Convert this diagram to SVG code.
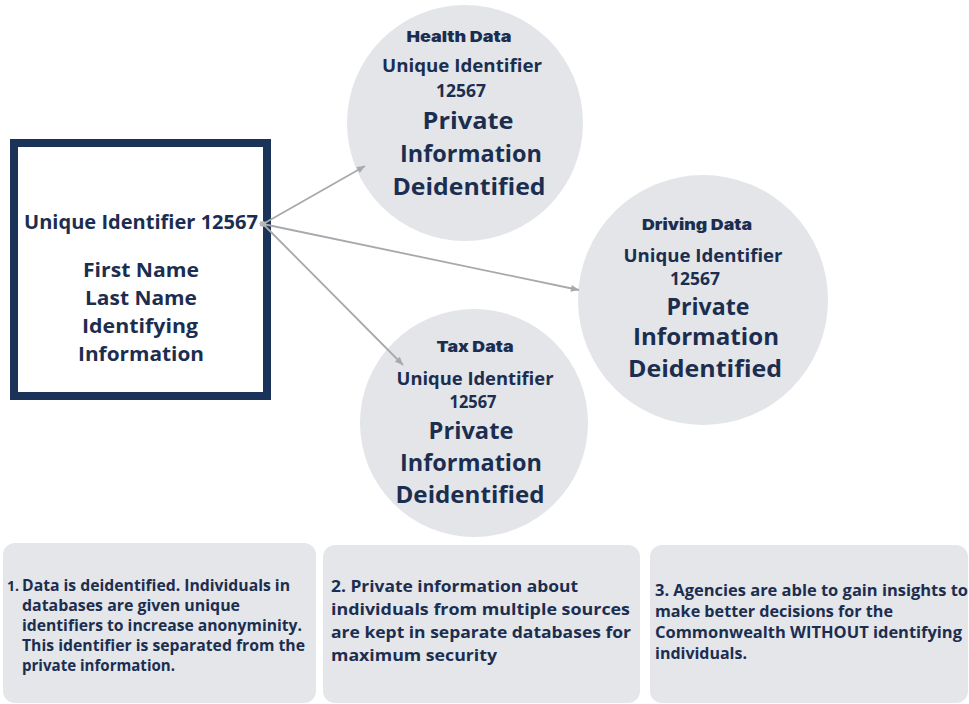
<svg xmlns="http://www.w3.org/2000/svg" width="969" height="704" viewBox="0 0 969 704">
<style>
  .t { fill: #1c2e50; font-family: "Open Sans", "Liberation Sans", sans-serif; font-weight: 700; }
  .c { text-anchor: middle; }
  .ttl { font-family: "Inter", "Lato", "Open Sans", sans-serif; font-weight: 900; font-size: 15px; }
  .uid { font-size: 17px; font-weight: 700; }
  .big { font-size: 23px; font-weight: 700; }
  .bx { font-size: 19px; }
  .note { font-size: 16px; }
  .circ { fill: #e3e5e8; }
  .card { fill: #e4e6e9; }
  .conn { stroke: #a6a9ad; stroke-width: 1.8; fill: none; marker-end: url(#ah); marker-start: url(#dot); }
</style>
<defs>
  <marker id="ah" markerUnits="userSpaceOnUse" markerWidth="10" markerHeight="10" refX="9" refY="5" orient="auto">
    <path d="M1,1.5 L9,5 L1,8.5 Z" fill="#a6a9ad"/>
  </marker>
  <marker id="dot" markerUnits="userSpaceOnUse" markerWidth="8" markerHeight="8" refX="4" refY="4" orient="auto">
    <path d="M0,4 L4,1 L8,4 L4,7 Z" fill="#b5b8bb"/>
  </marker>
</defs>
<rect width="969" height="704" fill="#ffffff"/>

<g id="circle-health">
  <circle class="circ" cx="465" cy="123" r="118"/>
  <text class="t c ttl" x="459" y="42" textLength="105" lengthAdjust="spacingAndGlyphs">Health Data</text>
  <text class="t c uid" x="462" y="72" textLength="160" lengthAdjust="spacingAndGlyphs">Unique Identifier</text>
  <text class="t c uid" x="461" y="97" textLength="50" lengthAdjust="spacingAndGlyphs">12567</text>
  <text class="t c big" x="468" y="129" textLength="91" lengthAdjust="spacingAndGlyphs">Private</text>
  <text class="t c big" x="471" y="162" textLength="142" lengthAdjust="spacingAndGlyphs">Information</text>
  <text class="t c big" x="469" y="195" textLength="153" lengthAdjust="spacingAndGlyphs">Deidentified</text>
</g>

<g id="circle-driving">
  <circle class="circ" cx="703" cy="300" r="125"/>
  <text class="t c ttl" x="697" y="230" textLength="110" lengthAdjust="spacingAndGlyphs">Driving Data</text>
  <text class="t c uid" x="703" y="262" textLength="159" lengthAdjust="spacingAndGlyphs">Unique Identifier</text>
  <text class="t c uid" x="695" y="285" textLength="50" lengthAdjust="spacingAndGlyphs">12567</text>
  <text class="t c big" x="708" y="315" textLength="83" lengthAdjust="spacingAndGlyphs">Private</text>
  <text class="t c big" x="706" y="345" textLength="146" lengthAdjust="spacingAndGlyphs">Information</text>
  <text class="t c big" x="705" y="377" textLength="154" lengthAdjust="spacingAndGlyphs">Deidentified</text>
</g>

<g id="circle-tax">
  <circle class="circ" cx="474" cy="423" r="114"/>
  <text class="t c ttl" x="475" y="352" textLength="77" lengthAdjust="spacingAndGlyphs">Tax Data</text>
  <text class="t c uid" x="475" y="385" textLength="157" lengthAdjust="spacingAndGlyphs">Unique Identifier</text>
  <text class="t c uid" x="473" y="408" textLength="47" lengthAdjust="spacingAndGlyphs">12567</text>
  <text class="t c big" x="471" y="439" textLength="85" lengthAdjust="spacingAndGlyphs">Private</text>
  <text class="t c big" x="471" y="471" textLength="142" lengthAdjust="spacingAndGlyphs">Information</text>
  <text class="t c big" x="470" y="503" textLength="149" lengthAdjust="spacingAndGlyphs">Deidentified</text>
</g>

<g id="person-record">
  <rect x="14" y="143" width="253" height="253" fill="#ffffff" stroke="#1b3358" stroke-width="8"/>
  <text class="t c bx" x="141" y="229" textLength="234" lengthAdjust="spacingAndGlyphs">Unique Identifier 12567</text>
  <text class="t c bx" x="141" y="277" textLength="116" lengthAdjust="spacingAndGlyphs">First Name</text>
  <text class="t c bx" x="141" y="305" textLength="112" lengthAdjust="spacingAndGlyphs">Last Name</text>
  <text class="t c bx" x="140" y="333" textLength="116" lengthAdjust="spacingAndGlyphs">Identifying</text>
  <text class="t c bx" x="141" y="361" textLength="126" lengthAdjust="spacingAndGlyphs">Information</text>
</g>

<g id="connectors">
  <line class="conn" x1="263" y1="224" x2="365" y2="166"/>
  <line class="conn" x1="263" y1="224" x2="579" y2="290"/>
  <line class="conn" x1="263" y1="224" x2="403" y2="365"/>
</g>

<g id="note-1">
  <rect class="card" x="3" y="543" width="313" height="160" rx="12"/>
  <text class="t" x="7" y="591" font-weight="400" font-size="14">1.</text>
  <text class="t note" x="22" y="591" textLength="268" lengthAdjust="spacingAndGlyphs">Data is deidentified. Individuals in</text>
  <text class="t note" x="22" y="611" textLength="218" lengthAdjust="spacingAndGlyphs">databases are given unique</text>
  <text class="t note" x="22" y="631" textLength="280" lengthAdjust="spacingAndGlyphs">identifiers to increase anonyminity.</text>
  <text class="t note" x="22" y="651" textLength="283" lengthAdjust="spacingAndGlyphs">This identifier is separated from the</text>
  <text class="t note" x="22" y="671" textLength="153" lengthAdjust="spacingAndGlyphs">private information.</text>
</g>

<g id="note-2">
  <rect class="card" x="323" y="545" width="317" height="158" rx="12"/>
  <text class="t note" x="331" y="592" textLength="247" lengthAdjust="spacingAndGlyphs">2. Private information about</text>
  <text class="t note" x="331" y="615" textLength="299" lengthAdjust="spacingAndGlyphs">individuals  from multiple sources</text>
  <text class="t note" x="331" y="638" textLength="300" lengthAdjust="spacingAndGlyphs">are kept in separate databases for</text>
  <text class="t note" x="331" y="661" textLength="166" lengthAdjust="spacingAndGlyphs">maximum security</text>
</g>

<g id="note-3">
  <rect class="card" x="650" y="545" width="318" height="158" rx="12"/>
  <text class="t note" x="655" y="596" textLength="313" lengthAdjust="spacingAndGlyphs">3. Agencies are able to gain insights to</text>
  <text class="t note" x="655" y="617" textLength="238" lengthAdjust="spacingAndGlyphs">make better decisions for the</text>
  <text class="t note" x="655" y="638" textLength="307" lengthAdjust="spacingAndGlyphs">Commonwealth WITHOUT identifying</text>
  <text class="t note" x="655" y="659" textLength="92" lengthAdjust="spacingAndGlyphs">individuals.</text>
</g>
</svg>
